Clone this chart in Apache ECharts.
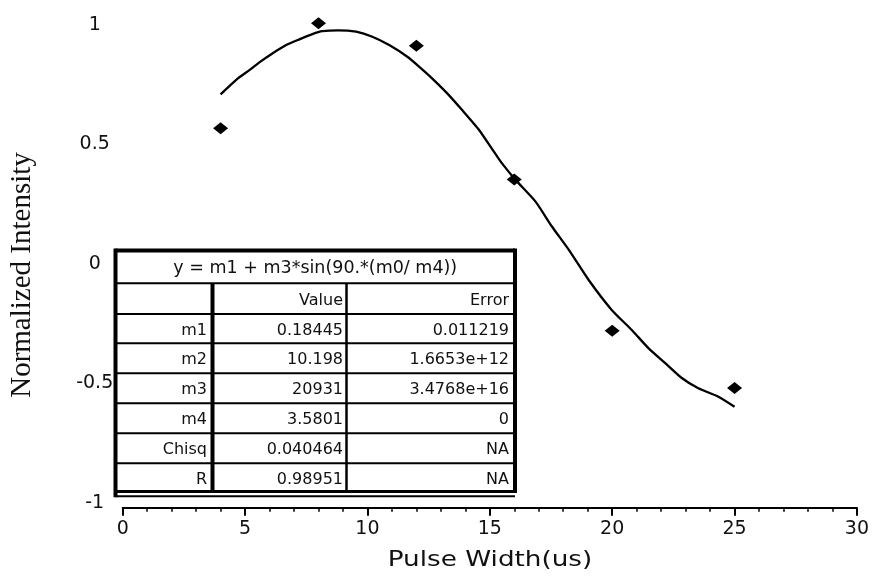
<!DOCTYPE html>
<html><head><meta charset="utf-8">
<script src="https://cdn.jsdelivr.net/npm/echarts@6/dist/echarts.min.js"></script>
<style>html,body{margin:0;padding:0;background:#fff}#c{width:872px;height:577px}</style>
</head><body><div id="c"></div><script>
// ---- data ----
const pulseWidth = [4, 8, 12, 16, 20, 25];
const intensity = [0.568, 1.007, 0.913, 0.354, -0.279, -0.519];
const fitX = [4.0, 4.65, 5.19, 5.6, 6.07, 6.68, 7.22, 7.75, 8.16, 8.8, 9.54, 10.2, 10.89, 11.63, 12.12, 12.64, 13.26, 13.87, 14.56, 15.09, 15.5, 16.06, 16.87, 17.53, 18.23, 19.04, 19.98, 20.8, 21.49, 22.17, 22.83, 23.52, 24.34, 25.0];
const fitY = [0.710, 0.772, 0.812, 0.845, 0.878, 0.916, 0.940, 0.962, 0.974, 0.978, 0.972, 0.951, 0.916, 0.867, 0.825, 0.777, 0.714, 0.644, 0.561, 0.482, 0.421, 0.351, 0.261, 0.158, 0.059, -0.067, -0.192, -0.276, -0.353, -0.415, -0.476, -0.520, -0.555, -0.597];
const yTickValues = [-1, -0.5, 0, 0.5, 1];
const xTickInterval = 5;
const tableTitle = 'y = m1 + m3*sin(90.*(m0/ m4))';
const tableHeader = ['', 'Value', 'Error'];
const tableParams = ['m1', 'm2', 'm3', 'm4', 'Chisq', 'R'];
const tableValues = ['0.18445', '10.198', '20931', '3.5801', '0.040464', '0.98951'];
const tableErrors = ['0.011219', '1.6653e+12', '3.4768e+16', '0', 'NA', 'NA'];
const xAxisTitle = 'Pulse Width(us)';
const yAxisTitle = 'Normalized Intensity';

// ---- table layout ----
const T = { L: 115.5, R: 515, top: 250.5, bot: 491.5, bot2: 496.3,
  rows: [283.3, 314, 343.3, 373.3, 403.3, 433.3, 463.3],
  c1: 212.5, c2: 346.5, r1: 207, r2: 343, r3: 509 };
const g = [];
const ln = (x1, y1, x2, y2, w) => g.push({ type: 'line', z: 100, shape: { x1, y1, x2, y2 }, style: { stroke: '#000', lineWidth: w } });
const tx = (text, x, y, align, size) => g.push({ type: 'text', z: 101, x, y, style: { text, fill: '#111', font: (size || 16) + 'px "DejaVu Sans"', textAlign: align, align: align, textVerticalAlign: 'middle', verticalAlign: 'middle' } });
g.push({ type: 'rect', z: 99, shape: { x: T.L, y: T.top, width: T.R - T.L, height: T.bot2 - T.top }, style: { fill: '#fff' } });
ln(T.L, T.top, T.R, T.top, 4);
ln(T.L, T.top - 2, T.L, T.bot2 + 1, 4);
ln(T.R, T.top - 2, T.R, T.bot + 1.5, 4);
ln(T.L, T.bot, T.R, T.bot, 3);
ln(T.L, T.bot2, T.R, T.bot2, 2);
T.rows.forEach(y => ln(T.L, y, T.R, y, 2));
ln(T.c1, T.rows[0], T.c1, T.bot, 4);
ln(T.c2, T.rows[0], T.c2, T.bot, 2.5);
tx(tableTitle, (T.L + T.R) / 2, 268, 'center', 17.5);
const rowEdges = T.rows.concat([T.bot]);
const allRows = [tableHeader].concat(tableParams.map((p, i) => [p, tableValues[i], tableErrors[i]]));
allRows.forEach((r, i) => {
  const yc = (rowEdges[i] + rowEdges[i + 1]) / 2 + 2;
  tx(r[0], T.r1, yc, 'right');
  tx(r[1], T.r2, yc, 'right');
  tx(r[2], T.r3, yc, 'right');
});
// axis titles
g.push({ type: 'text', z: 50, x: 22, y: 275, rotation: Math.PI / 2, style: { text: yAxisTitle, fill: '#111', font: '29px "Liberation Serif"', textAlign: 'center', align: 'center', textVerticalAlign: 'middle', verticalAlign: 'middle' } });
g.push({ type: 'text', z: 50, x: 490, y: 561, scaleX: 1.25, style: { text: xAxisTitle, fill: '#111', font: '21px "DejaVu Sans"', textAlign: 'center', align: 'center', textVerticalAlign: 'middle', verticalAlign: 'middle' } });

const chart = echarts.init(document.getElementById('c'));
chart.setOption({
  animation: false,
  backgroundColor: '#fff',
  grid: { left: 122.7, right: 13, top: 5.9, bottom: 69.2 },
  xAxis: {
    type: 'value', min: 0, max: 30, interval: xTickInterval,
    axisLine: { onZero: false, lineStyle: { color: '#000', width: 2 } },
    axisTick: { length: 8, lineStyle: { color: '#000', width: 2 } },
    minorTick: { show: true, splitNumber: 5, length: 4, lineStyle: { color: '#000', width: 1.5 } },
    splitLine: { show: false }, minorSplitLine: { show: false },
    axisLabel: { color: '#111', fontFamily: 'DejaVu Sans', fontSize: 19, margin: 12 }
  },
  yAxis: {
    type: 'value', min: -1.02, max: 1.08,
    axisLine: { show: false }, axisTick: { show: false }, splitLine: { show: false },
    axisLabel: { customValues: yTickValues, color: '#111', fontFamily: 'DejaVu Sans', fontSize: 19, align: 'center', margin: 28 }
  },
  graphic: { elements: g },
  series: [
    { type: 'line', data: fitX.map((x, i) => [x, fitY[i]]), showSymbol: false, smooth: 0.2,
      lineStyle: { color: '#000', width: 2.3 }, z: 2 },
    { type: 'scatter', data: pulseWidth.map((x, i) => [x, intensity[i]]), symbol: 'diamond', symbolSize: [15, 12],
      itemStyle: { color: '#000', opacity: 1 }, z: 3 }
  ]
});
</script></body></html>
